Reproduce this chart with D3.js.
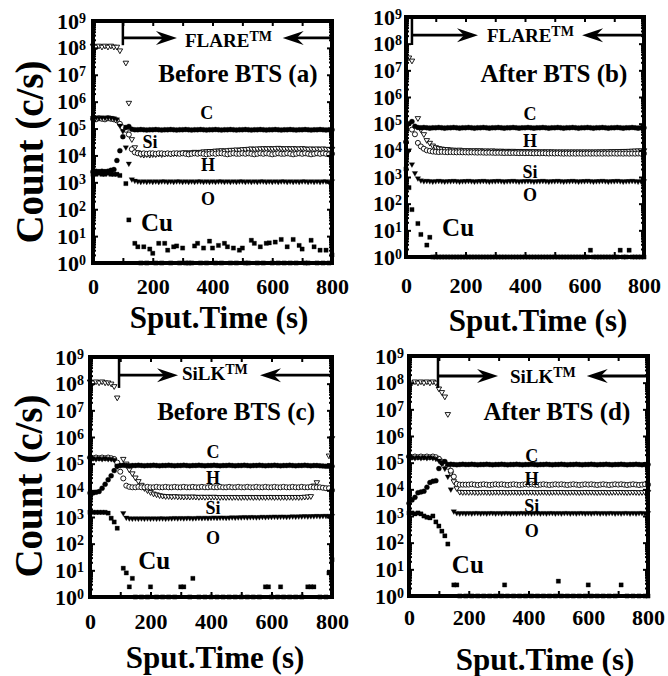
<!DOCTYPE html>
<html><head><meta charset="utf-8">
<script src="https://cdn.jsdelivr.net/npm/d3@7/dist/d3.min.js"></script>
<style>
body{margin:0;background:#fff}
svg{display:block}
text{font-family:"Liberation Serif","Times New Roman",Times,serif;font-weight:bold;fill:#000}
</style>
</head><body>
<svg id="chart" width="668" height="676"></svg>
<script>
// ---------- DATA ----------
const T = [0,10,20,30,40,50,60,70,80,90,100,110,120,130,140,150,160,170,180,190,200,210,220,230,240,250,260,270,280,290,300,310,320,330,340,350,360,370,380,390,400,410,420,430,440,450,460,470,480,490,500,510,520,530,540,550,560,570,580,590,600,610,620,630,640,650,660,670,680,690,700,710,720,730,740,750,760,770,780,790,800];
const xTickValues = [0,100,200,300,400,500,600,700,800];
const xTickLabels = [0,200,400,600,800];
const yTickValues = [1,1e1,1e2,1e3,1e4,1e5,1e6,1e7,1e8,1e9];

// (a) FLARE before BTS
const Si_a = [
1.2e8,1.1e8,1.2e8,1.1e8,1.2e8,1.1e8,1.2e8,1.1e8,1.1e8,8e7,
null,2.8e7,9e5,4e4,2e4,1.3e4,1.1e4,1.05e4,1.1e4,1.05e4,
1.1e4,1.1e4,1.15e4,1.1e4,1.15e4,1.2e4,1.15e4,1.2e4,1.2e4,1.25e4,
1.25e4,1.3e4,1.25e4,1.3e4,1.35e4,1.3e4,1.35e4,1.4e4,1.4e4,1.45e4,
1.45e4,1.5e4,1.5e4,1.55e4,1.5e4,1.55e4,1.6e4,1.6e4,1.65e4,1.6e4,
1.7e4,1.7e4,1.75e4,1.8e4,1.75e4,1.8e4,1.8e4,1.85e4,1.8e4,1.85e4,
1.8e4,1.85e4,1.9e4,1.85e4,1.8e4,1.85e4,1.8e4,1.85e4,1.8e4,1.8e4,
1.85e4,1.8e4,1.75e4,1.8e4,1.75e4,1.8e4,1.75e4,1.8e4,1.75e4,1.7e4,
1.75e4];
const H_a = [
2.3e5,2.2e5,2.4e5,2.3e5,2.2e5,2.4e5,2.3e5,2.2e5,2e5,1.5e5,
1.1e5,9e4,6e4,1.7e4,1.3e4,1.2e4,1.15e4,1.2e4,1.15e4,1.2e4,
1.2e4,1.15e4,1.2e4,1.2e4,1.15e4,1.2e4,1.15e4,1.2e4,1.2e4,1.15e4,
1.2e4,1.15e4,1.1e4,1.15e4,1.2e4,1.15e4,1.2e4,1.15e4,1.1e4,1.15e4,
1.2e4,1.15e4,1.2e4,1.2e4,1.15e4,1.1e4,1.15e4,1.2e4,1.15e4,1.15e4,
1.2e4,1.15e4,1.2e4,1.15e4,1.1e4,1.15e4,1.2e4,1.15e4,1.2e4,1.15e4,
1.1e4,1.15e4,1.2e4,1.15e4,1.15e4,1.2e4,1.15e4,1.1e4,1.15e4,1.2e4,
1.15e4,1.2e4,1.15e4,1.1e4,1.15e4,1.2e4,1.15e4,1.2e4,1.15e4,1.1e4,
1.15e4];
const O_a = [
2.5e5,2.6e5,2.5e5,2.6e5,2.5e5,2.6e5,2.5e5,2.4e5,2.2e5,1.3e5,
8e4,2e4,5e3,1.3e3,1.15e3,1.1e3,1.05e3,1.1e3,1.05e3,1.1e3,
1.05e3,1.1e3,1.05e3,1.1e3,1.1e3,1.05e3,1.1e3,1.05e3,1.1e3,1.1e3,
1.05e3,1.1e3,1.05e3,1.1e3,1.05e3,1.1e3,1.1e3,1.05e3,1.1e3,1.05e3,
1.1e3,1.05e3,1.1e3,1.1e3,1.05e3,1.1e3,1.05e3,1.1e3,1.05e3,1.1e3,
1.1e3,1.05e3,1.1e3,1.05e3,1.1e3,1.05e3,1.1e3,1.1e3,1.05e3,1.1e3,
1.05e3,1.1e3,1.05e3,1.1e3,1.1e3,1.05e3,1.1e3,1.05e3,1.1e3,1.05e3,
1.1e3,1.1e3,1.05e3,1.1e3,1.05e3,1.1e3,1.05e3,1.1e3,1.1e3,1.05e3,
1.1e3];
const C_a = [
2.5e3,2.6e3,2.5e3,2.6e3,2.5e3,2.6e3,2.8e3,3e3,6.5e3,1.5e4,
5e4,1.1e5,1.2e5,9.5e4,9e4,9e4,9.2e4,9e4,8.8e4,9e4,
9e4,9.2e4,9e4,8.8e4,9e4,9e4,9.2e4,9e4,8.8e4,9e4,
9e4,9.2e4,9e4,8.8e4,9e4,9e4,9.2e4,9e4,8.8e4,9e4,
9e4,9.2e4,9e4,8.8e4,9e4,9e4,9.2e4,9e4,8.8e4,9e4,
9e4,9.2e4,9e4,8.8e4,9e4,9e4,9.2e4,9e4,8.8e4,9e4,
9e4,9.2e4,9e4,8.8e4,9e4,9e4,9.2e4,9e4,8.8e4,9e4,
9e4,9.2e4,9e4,8.8e4,9e4,9e4,9.2e4,9e4,8.8e4,9e4,
9e4];
const Cu_a = [
2e3,2e3,2.2e3,2e3,2e3,2.2e3,2e3,2e3,2e3,1.8e3,
null,9e2,40,null,5.4,4,1,4,1,3.3,
2.3,1,5.4,1,5.4,3,1,4,4.3,1,
3.6,1,1,1,4.3,5.4,1,3.6,1,6.5,
3.6,1,4.5,1,5.4,4,1,3.6,1,3,
3.6,1,1,7,5.4,1,4,1,5.4,5.6,
1,6,1,7.5,1,4,1,7.5,1,4.5,
3.3,1,1,7,4,1,3,1,3,1,
2];

// (b) FLARE after BTS
const Si_b = [
null,3e7,2.3e7,null,1.6e5,6e4,4e4,2.4e4,1.9e4,1.5e4,
1.3e4,1.2e4,1.15e4,1.1e4,1.1e4,1.05e4,1.05e4,1e4,1.05e4,1e4,
1e4,1e4,9.8e3,1e4,9.8e3,1e4,9.6e3,9.8e3,9.6e3,9.8e3,
9.6e3,9.5e3,9.6e3,9.4e3,9.5e3,9.4e3,9.5e3,9.3e3,9.4e3,9.3e3,
9.2e3,9.3e3,9.1e3,9.2e3,9.1e3,9e3,9.1e3,9e3,9.1e3,9e3,
9e3,8.9e3,9e3,8.9e3,9e3,8.9e3,9e3,8.9e3,9e3,8.9e3,
9e3,8.9e3,9e3,8.9e3,9e3,9e3,9.1e3,9e3,9.1e3,9.2e3,
9.2e3,9.3e3,9.3e3,9.4e3,9.4e3,9.5e3,9.6e3,9.7e3,9.8e3,9.9e3,
1e4];
const H_b = [
null,null,6e4,4e4,1.9e4,1.4e4,1.15e4,1e4,9.5e3,9e3,
8.8e3,8.6e3,8.8e3,8.6e3,8.5e3,8.6e3,8.5e3,8.4e3,8.5e3,8.4e3,
8.4e3,8.3e3,8.4e3,8.3e3,8.2e3,8.3e3,8.2e3,8.1e3,8.2e3,8.1e3,
8e3,8.1e3,8e3,7.9e3,8e3,7.9e3,8e3,7.9e3,7.8e3,7.9e3,
7.8e3,7.9e3,7.8e3,7.7e3,7.8e3,7.7e3,7.8e3,7.7e3,7.6e3,7.7e3,
7.6e3,7.7e3,7.6e3,7.5e3,7.6e3,7.5e3,7.6e3,7.5e3,7.6e3,7.5e3,
7.5e3,7.6e3,7.5e3,7.6e3,7.5e3,7.6e3,7.5e3,7.6e3,7.5e3,7.6e3,
7.6e3,7.5e3,7.6e3,7.5e3,7.6e3,7.5e3,7.6e3,7.5e3,7.6e3,7.5e3,
7.6e3];
const C_b = [
2e4,1e5,1.2e5,8e4,7.2e4,7e4,7.2e4,7e4,6.8e4,7e4,
7e4,7.2e4,7e4,6.8e4,7e4,7e4,7.2e4,7e4,6.8e4,7e4,
7e4,7.2e4,7e4,6.8e4,7e4,7e4,7.2e4,7e4,6.8e4,7e4,
7e4,7.2e4,7e4,6.8e4,7e4,7e4,7.2e4,7e4,6.8e4,7e4,
7e4,7.2e4,7e4,6.8e4,7e4,7e4,7.2e4,7e4,6.8e4,7e4,
7e4,7.2e4,7e4,6.8e4,7e4,7e4,7.2e4,7e4,6.8e4,7e4,
7e4,7.2e4,7e4,6.8e4,7e4,7e4,7.2e4,7e4,6.8e4,7e4,
7e4,7.2e4,7e4,6.8e4,7e4,7e4,7.2e4,7e4,6.8e4,7e4,
7e4];
const O_b = [
2e4,1e4,3e3,1.4e3,9e2,7.5e2,7e2,7.2e2,7e2,6.8e2,
7e2,7.2e2,7e2,6.8e2,7e2,7e2,7.2e2,7e2,6.8e2,7e2,
7e2,7.2e2,7e2,6.8e2,7e2,7e2,7.2e2,7e2,6.8e2,7e2,
7e2,7.2e2,7e2,6.8e2,7e2,7e2,7.2e2,7e2,6.8e2,7e2,
7e2,7.2e2,7e2,6.8e2,7e2,7e2,7.2e2,7e2,6.8e2,7e2,
7e2,7.2e2,7e2,6.8e2,7e2,7e2,7.2e2,7e2,6.8e2,7e2,
7e2,7.2e2,7e2,6.8e2,7e2,7e2,7.2e2,7e2,6.8e2,7e2,
7e2,7.2e2,7e2,6.8e2,7e2,7e2,7.2e2,7e2,6.8e2,7e2,
7e2];
const Cu_b = [
2e3,400,60,null,18,7,null,2.8,5.5,1,
1,1,1,1,1,1,1,1,1,1,
1,1,1,1,1,1,1,1,1,1,
1,1,1,1,1,1,1,1,1,1,
1,1,1,1,1,1,1,1,1,1,
1,1,1,1,1,1,1,1,1,1,
1,1,1.8,1,1,1,1,1,1,1,
1,1,1.8,1,1,1.8,1,1,1,1,
1];

// (c) SiLK before BTS
const Si_c = [
1.2e8,1.1e8,1.2e8,1.1e8,1.2e8,1.1e8,1.1e8,1e8,8e7,3e7,
null,1.5e5,1e5,6e4,4.3e4,3e4,2.2e4,1.6e4,1.2e4,1e4,
8.5e3,7.5e3,7e3,6.5e3,6.2e3,6e3,6e3,5.8e3,6e3,5.8e3,
5.8e3,5.7e3,5.8e3,5.7e3,5.8e3,5.7e3,5.6e3,5.7e3,5.6e3,5.7e3,
5.6e3,5.7e3,5.6e3,5.5e3,5.6e3,5.5e3,5.6e3,5.5e3,5.6e3,5.5e3,
5.5e3,5.6e3,5.5e3,5.6e3,5.5e3,5.6e3,5.5e3,5.6e3,5.5e3,5.6e3,
5.6e3,5.5e3,5.6e3,5.5e3,5.6e3,5.5e3,5.6e3,5.5e3,5.6e3,5.5e3,
5.6e3,5.7e3,5.8e3,6e3,1.5e4,2e4,null,null,null,2e5,
9e5];
const H_c = [
1.7e5,1.6e5,1.7e5,1.6e5,1.7e5,1.6e5,1.7e5,1.6e5,1.5e5,1.1e5,
5e4,2.8e4,1.5e4,1.35e4,1.3e4,1.3e4,1.35e4,1.3e4,1.3e4,1.35e4,
1.3e4,1.3e4,1.35e4,1.3e4,1.3e4,1.35e4,1.3e4,1.3e4,1.35e4,1.3e4,
1.3e4,1.35e4,1.3e4,1.3e4,1.35e4,1.3e4,1.3e4,1.35e4,1.3e4,1.3e4,
1.35e4,1.3e4,1.3e4,1.35e4,1.3e4,1.3e4,1.35e4,1.3e4,1.3e4,1.35e4,
1.3e4,1.3e4,1.35e4,1.3e4,1.3e4,1.35e4,1.3e4,1.3e4,1.35e4,1.3e4,
1.3e4,1.35e4,1.3e4,1.3e4,1.35e4,1.3e4,1.3e4,1.35e4,1.3e4,1.3e4,
1.35e4,1.3e4,1.3e4,1.35e4,1.3e4,1.3e4,1.3e4,1.25e4,1.2e4,1.2e4,
1e4];
const C_c = [
8e3,8e3,8.5e3,9e3,1.2e4,1.7e4,2.5e4,3.5e4,5.5e4,8e4,
8.5e4,8.7e4,8.5e4,8.3e4,8.5e4,8.5e4,8.7e4,8.5e4,8.3e4,8.5e4,
8.5e4,8.7e4,8.5e4,8.3e4,8.5e4,8.5e4,8.7e4,8.5e4,8.3e4,8.5e4,
8.5e4,8.7e4,8.5e4,8.3e4,8.5e4,8.5e4,8.7e4,8.5e4,8.3e4,8.5e4,
8.5e4,8.7e4,8.5e4,8.3e4,8.5e4,8.5e4,8.7e4,8.5e4,8.3e4,8.5e4,
8.5e4,8.7e4,8.5e4,8.3e4,8.5e4,8.5e4,8.7e4,8.5e4,8.3e4,8.5e4,
8.5e4,8.7e4,8.5e4,8.3e4,8.5e4,8.5e4,8.7e4,8.5e4,8.3e4,8.5e4,
8.5e4,8.7e4,8.5e4,8.3e4,8.5e4,8.5e4,8.3e4,8.2e4,8e4,8e4,
8e4];
const O_c = [
1.5e5,1.6e5,1.5e5,1.6e5,1.5e5,1.6e5,1.5e5,1.5e5,1.4e5,8e4,
null,1.4e3,9.5e2,9e2,8.8e2,9e2,8.8e2,9e2,8.8e2,9e2,
8.8e2,9e2,8.8e2,9e2,9e2,8.8e2,9e2,9e2,9.2e2,9e2,
9.2e2,9e2,9.2e2,9.2e2,9e2,9.2e2,9.4e2,9.2e2,9.4e2,9.2e2,
9.4e2,9.6e2,9.4e2,9.6e2,9.6e2,9.4e2,9.6e2,9.8e2,9.6e2,9.8e2,
9.8e2,1e3,9.8e2,1e3,1e3,9.8e2,1e3,1.02e3,1e3,1.02e3,
1.02e3,1.04e3,1.02e3,1.04e3,1.04e3,1.02e3,1.04e3,1.06e3,1.04e3,1.06e3,
1.06e3,1.08e3,1.06e3,1.08e3,1.08e3,1.1e3,1.08e3,1.1e3,1.1e3,1.1e3,
1.1e3];
const Cu_c = [
1.5e3,1.5e3,1.5e3,1.5e3,1.5e3,1.5e3,1.4e3,9e2,6.5e2,3.8e2,
null,12,8,2.4,5,1,null,1,null,1,
2.4,null,1,null,1,null,1,null,1,null,
2.4,2.4,null,1,5,null,1,null,1,null,
1,null,1,null,1,null,1,null,1,null,
1,null,1,null,1,null,1,null,2.4,2.4,
1,null,1,2.4,1,null,1,null,1,null,
1,null,2.4,2.4,2.4,null,1,null,1,8,
25];

// (d) SiLK after BTS
const Si_d = [
null,1e8,1.1e8,1e8,1.1e8,1e8,1.1e8,1e8,1.1e8,1e8,
6e7,4.4e7,3e7,6.6e6,4e4,2e4,1.1e4,8e3,7.8e3,7.9e3,
7.8e3,7.9e3,7.8e3,7.7e3,7.8e3,7.9e3,7.8e3,7.7e3,7.8e3,7.9e3,
7.8e3,7.9e3,7.8e3,7.7e3,7.8e3,7.9e3,7.8e3,7.7e3,7.8e3,7.9e3,
7.8e3,7.9e3,7.8e3,7.7e3,7.8e3,7.9e3,7.8e3,7.7e3,7.8e3,7.9e3,
7.8e3,7.9e3,7.8e3,7.7e3,7.8e3,7.9e3,7.8e3,7.7e3,7.8e3,7.9e3,
7.8e3,7.9e3,7.8e3,7.7e3,7.8e3,7.9e3,7.8e3,7.7e3,7.8e3,7.9e3,
7.8e3,7.9e3,7.8e3,7.7e3,7.8e3,7.9e3,7.8e3,7.7e3,7.8e3,7.9e3,
8e3];
const H_d = [
1.7e5,1.6e5,1.7e5,1.6e5,1.7e5,1.6e5,1.7e5,1.6e5,1.7e5,1.6e5,
1.4e5,1.1e5,9e4,7e4,5e4,3e4,1.6e4,1.5e4,1.5e4,1.5e4,
1.5e4,1.55e4,1.5e4,1.45e4,1.5e4,1.55e4,1.5e4,1.45e4,1.5e4,1.55e4,
1.5e4,1.55e4,1.5e4,1.45e4,1.5e4,1.55e4,1.5e4,1.45e4,1.5e4,1.55e4,
1.5e4,1.55e4,1.5e4,1.45e4,1.5e4,1.55e4,1.5e4,1.45e4,1.5e4,1.55e4,
1.5e4,1.55e4,1.5e4,1.45e4,1.5e4,1.55e4,1.5e4,1.45e4,1.5e4,1.55e4,
1.5e4,1.55e4,1.5e4,1.45e4,1.5e4,1.55e4,1.5e4,1.45e4,1.5e4,1.55e4,
1.5e4,1.55e4,1.5e4,1.45e4,1.5e4,1.55e4,1.5e4,1.45e4,1.5e4,1.55e4,
1.5e4];
const C_d = [
3e3,4e3,5e3,7.5e3,8e3,8.5e3,1.2e4,1.8e4,2e4,2.1e4,
6e4,1e5,1.1e5,8.5e4,8.7e4,8.5e4,8.3e4,8.5e4,8.7e4,8.5e4,
8.5e4,8.7e4,8.5e4,8.3e4,8.5e4,8.5e4,8.7e4,8.5e4,8.3e4,8.5e4,
8.5e4,8.7e4,8.5e4,8.3e4,8.5e4,8.5e4,8.7e4,8.5e4,8.3e4,8.5e4,
8.5e4,8.7e4,8.5e4,8.3e4,8.5e4,8.5e4,8.7e4,8.5e4,8.3e4,8.5e4,
8.5e4,8.7e4,8.5e4,8.3e4,8.5e4,8.5e4,8.7e4,8.5e4,8.3e4,8.5e4,
8.5e4,8.7e4,8.5e4,8.3e4,8.5e4,8.5e4,8.7e4,8.5e4,8.3e4,8.5e4,
8.5e4,8.7e4,8.5e4,8.3e4,8.5e4,8.5e4,8.7e4,8.5e4,8.3e4,8.5e4,
8.5e4];
const O_d = [
1.5e5,1.6e5,1.5e5,1.6e5,1.5e5,1.6e5,1.5e5,1.6e5,1.5e5,1.4e5,
1.2e5,9e4,6e4,3e4,1e4,1.5e3,1.3e3,1.25e3,1.3e3,1.25e3,
1.3e3,1.25e3,1.3e3,1.3e3,1.25e3,1.3e3,1.25e3,1.3e3,1.3e3,1.25e3,
1.3e3,1.25e3,1.3e3,1.3e3,1.25e3,1.3e3,1.25e3,1.3e3,1.3e3,1.25e3,
1.3e3,1.25e3,1.3e3,1.3e3,1.25e3,1.3e3,1.25e3,1.3e3,1.3e3,1.25e3,
1.3e3,1.25e3,1.3e3,1.3e3,1.25e3,1.3e3,1.25e3,1.3e3,1.3e3,1.25e3,
1.3e3,1.25e3,1.3e3,1.3e3,1.25e3,1.3e3,1.25e3,1.3e3,1.3e3,1.25e3,
1.3e3,1.25e3,1.3e3,1.3e3,1.25e3,1.3e3,1.25e3,1.3e3,1.3e3,1.25e3,
1.3e3];
const Cu_d = [
1.3e3,1.3e3,1.2e3,1.3e3,1.2e3,1e3,9e2,8.5e2,1e3,6e2,
4.2e2,2.7e2,1.8e2,89,null,2.6,2.6,1,null,1,
null,1,null,1,null,1,null,1,null,1,
null,1,2.6,1,null,1,null,1,null,1,
null,1,null,1,null,1,null,1,null,1,
3.6,1,null,1,null,1,null,1,null,1,
2.6,1,null,1,null,1,null,1,null,1,
null,2.6,null,1,null,1,null,1,null,1,
1];

// ---------- LAYOUT ----------
const panels = [
 {x0:93,x1:332,yT:21,yB:263, data:{Si:Si_a,H:H_a,C:C_a,O:O_a,Cu:Cu_a},
  film:'FLARE', title:'Before BTS (a)', xPad:15, yPad:7, xLab:[219,328], yLab:[43,152],
  vLine:[100,8.1], arrowLg:8.37, tipR:281, tipL:635, filmPos:[308,8.03], titlePos:[485,6.73],
  labels:[['C',381,5.58],['Si',191,4.5],['H',385,3.64],['O',385,2.38]], cu:[214,1.52]},
 {x0:406,x1:644,yT:17,yB:257, data:{Si:Si_b,H:H_b,C:C_b,O:O_b,Cu:Cu_b},
  film:'FLARE', title:'After BTS (b)', xPad:20, yPad:4, xLab:[538,331], yLab:null,
  vLine:[20,7.95], arrowLg:8.32, tipR:242, tipL:592, filmPos:[272,8.06], titlePos:[497,6.56],
  labels:[['C',417,5.36],['H',417,4.35],['Si',417,3.19],['O',417,2.32]], cu:[175,1.12]},
 {x0:90,x1:332,yT:357,yB:597, data:{Si:Si_c,H:H_c,C:C_c,O:O_c,Cu:Cu_c},
  film:'SiLK', title:'Before BTS (c)', xPad:16, yPad:6, xLab:[215,668], yLab:[42,486],
  vLine:[96,7.84], arrowLg:8.32, tipR:291, tipL:562, filmPos:[304,8.14], titlePos:[483,6.64],
  labels:[['C',407,5.44],['H',407,4.46],['Si',407,3.34],['O',407,2.21]], cu:[212,1.39]},
 {x0:409,x1:648,yT:356,yB:596, data:{Si:Si_d,H:H_d,C:C_d,O:O_d,Cu:Cu_d},
  film:'SiLK', title:'After BTS (d)', xPad:13, yPad:5, xLab:[545,670], yLab:null,
  vLine:[97,7.8], arrowLg:8.25, tipR:298, tipL:595, filmPos:[338,7.99], titlePos:[495,6.6],
  labels:[['C',411,5.25],['H',411,4.39],['Si',411,3.37],['O',411,2.44]], cu:[197,1.2]}
];

const markers = {
 Si:{type:d3.symbolTriangle, size:13, fill:'#fff', flip:true},
 H: {type:d3.symbolCircle,   size:20, fill:'#fff'},
 C: {type:d3.symbolCircle,   size:20, fill:'#000'},
 O: {type:d3.symbolTriangle, size:13, fill:'#000', flip:true},
 Cu:{type:d3.symbolSquare,   size:18, fill:'#000'}
};
const drawOrder = ['Si','H','C','O','Cu'];
const FONT = '"Liberation Serif","Times New Roman",Times,serif';

const svg = d3.select('#chart');

panels.forEach(p => {
  const x = d3.scaleLinear().domain([0,800]).range([p.x0,p.x1]);
  const y = d3.scaleLog().domain([1,1e9]).range([p.yB,p.yT]);
  const g = svg.append('g');
  const P = lg => y(Math.pow(10,lg));

  // markers
  drawOrder.forEach(k => {
    const m = markers[k];
    const pts = T.map((t,i)=>[t,p.data[k][i]]).filter(d=>d[1]!=null);
    g.append('g').selectAll('path').data(pts).join('path')
      .attr('d', d3.symbol(m.type, m.size))
      .attr('transform', d=>`translate(${x(d[0])},${y(d[1])})${m.flip?' rotate(180)':''}`)
      .attr('fill', m.fill)
      .attr('stroke', '#000')
      .attr('stroke-width', m.fill==='#fff'?0.9:0.3);
  });

  // frame
  g.append('rect').attr('x',p.x0).attr('y',p.yT).attr('width',p.x1-p.x0).attr('height',p.yB-p.yT)
    .attr('fill','none').attr('stroke','#000').attr('stroke-width',4);

  const styleAxis = s => { s.select('.domain').remove(); s.selectAll('line').attr('stroke','#000').attr('stroke-width',2);
    s.attr('font-family',FONT).attr('font-weight','bold'); };

  // x axes
  g.append('g').attr('transform',`translate(0,${p.yB})`)
    .call(d3.axisBottom(x).tickValues(xTickValues).tickSize(-5).tickPadding(p.xPad)
      .tickFormat(d => xTickLabels.includes(d) ? d : ''))
    .call(styleAxis).attr('font-size',22);
  g.append('g').attr('transform',`translate(0,${p.yT})`)
    .call(d3.axisTop(x).tickValues(xTickValues).tickSize(-5).tickFormat(''))
    .call(styleAxis);

  // y axes
  const minor = y.ticks(10).filter(v => !yTickValues.some(d => Math.abs(d-v)/d < 1e-6));
  const ya = g.append('g').attr('transform',`translate(${p.x0},0)`)
    .call(d3.axisLeft(y).tickValues(yTickValues).tickSize(-5).tickPadding(p.yPad).tickFormat(()=>''))
    .call(styleAxis).attr('font-size',22);
  ya.selectAll('.tick text').each(function(d){
    const t = d3.select(this);
    t.append('tspan').text('10');
    t.append('tspan').attr('dy','-0.42em').attr('font-size',14).text(Math.round(Math.log10(d)));
  });
  g.append('g').attr('transform',`translate(${p.x0},0)`)
    .call(d3.axisLeft(y).tickValues(minor).tickSize(-3).tickFormat('')).call(styleAxis);
  g.append('g').attr('transform',`translate(${p.x1},0)`)
    .call(d3.axisRight(y).tickValues(yTickValues).tickSize(-5).tickFormat('')).call(styleAxis);
  g.append('g').attr('transform',`translate(${p.x1},0)`)
    .call(d3.axisRight(y).tickValues(minor).tickSize(-3).tickFormat('')).call(styleAxis);

  // interface marker and arrows
  const xv = x(p.vLine[0]), ya0 = P(p.arrowLg);
  g.append('line').attr('x1',xv).attr('x2',xv).attr('y1',p.yT).attr('y2',P(p.vLine[1]))
    .attr('stroke','#000').attr('stroke-width',2.5);
  const xr = x(p.tipR);
  g.append('line').attr('x1',xv).attr('x2',xr-6).attr('y1',ya0).attr('y2',ya0).attr('stroke','#000').attr('stroke-width',2.8);
  g.append('path').attr('d',`M${xr},${ya0} L${xr-21},${ya0-7} L${xr-14},${ya0} L${xr-21},${ya0+7} Z`).attr('fill','#000');
  const xl = x(p.tipL);
  g.append('line').attr('x1',xl+6).attr('x2',p.x1).attr('y1',ya0).attr('y2',ya0).attr('stroke','#000').attr('stroke-width',2.8);
  g.append('path').attr('d',`M${xl},${ya0} L${xl+21},${ya0-7} L${xl+14},${ya0} L${xl+21},${ya0+7} Z`).attr('fill','#000');

  // film label
  const ft = g.append('text').attr('x',x(p.filmPos[0])).attr('y',P(p.filmPos[1])).attr('font-size',19);
  ft.append('tspan').text(p.film);
  ft.append('tspan').attr('dy','-0.4em').attr('font-size',14).text('TM');

  // title
  g.append('text').attr('x',x(p.titlePos[0])).attr('y',P(p.titlePos[1])).attr('text-anchor','middle')
    .attr('font-size',25).text(p.title);

  // element labels
  p.labels.forEach(l => g.append('text').attr('x',x(l[1])).attr('y',P(l[2])).attr('dy','0.35em')
    .attr('text-anchor','middle').attr('font-size',18).text(l[0]));
  g.append('text').attr('x',x(p.cu[0])).attr('y',P(p.cu[1])).attr('dy','0.35em')
    .attr('text-anchor','middle').attr('font-size',25).text('Cu');

  // axis titles
  g.append('text').attr('x',p.xLab[0]).attr('y',p.xLab[1]).attr('text-anchor','middle')
    .attr('font-size',31).text('Sput.Time (s)');
  if (p.yLab) g.append('text').attr('transform',`translate(${p.yLab[0]},${p.yLab[1]}) rotate(-90)`)
    .attr('text-anchor','middle').attr('font-size',39).text('Count (c/s)');
});
</script>
</body></html>
